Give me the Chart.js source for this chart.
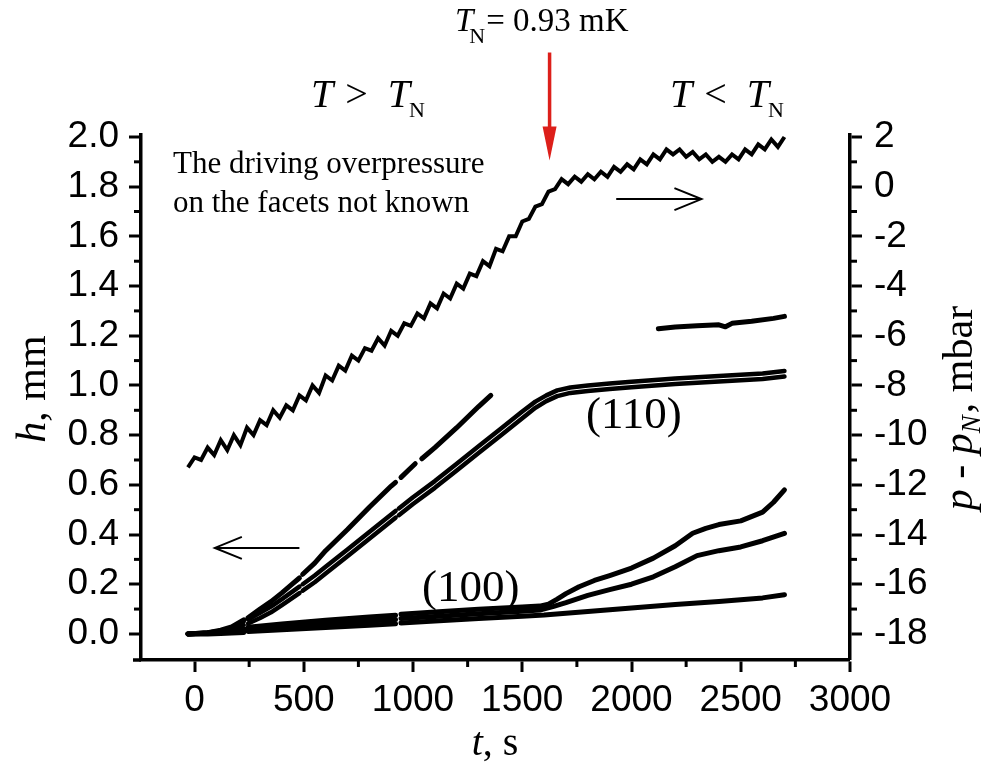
<!DOCTYPE html>
<html>
<head>
<meta charset="utf-8">
<script src="https://cdn.jsdelivr.net/npm/chart.js@4"></script>
<style>
html,body{margin:0;padding:0;background:#fff;}
#wrap{width:982px;height:763px;position:relative;}
canvas{display:block;}
</style>
</head>
<body>
<div id="wrap"><canvas id="c" width="982" height="763"></canvas></div>
<script>
// ---------- tick definitions ----------
const xTickValues = [0, 500, 1000, 1500, 2000, 2500, 3000];
const xMinorValues = [250, 750, 1250, 1750, 2250, 2750];
const hTickValues = [0, 0.2, 0.4, 0.6, 0.8, 1.0, 1.2, 1.4, 1.6, 1.8, 2.0];
const hTickLabels = ['0.0','0.2','0.4','0.6','0.8','1.0','1.2','1.4','1.6','1.8','2.0'];
const hMinorValues = [0.1, 0.3, 0.5, 0.7, 0.9, 1.1, 1.3, 1.5, 1.7, 1.9];
const pTickValues = [-18, -16, -14, -12, -10, -8, -6, -4, -2, 0, 2];
const pMinorValues = [-17, -15, -13, -11, -9, -7, -5, -3, -1, 1];

// ---------- pressure p - pN (mbar), right axis ----------
const tP = [-30,0,30,60,90,120,150,180,210,240,270,300,330,360,390,420,450,480,510,540,570,600,630,660,690,720,750,780,810,840,870,900,930,960,990,1020,1050,1080,1110,1140,1170,1200,1230,1260,1290,1320,1350,1380,1410,1440,1470,1500,1530,1560,1590,1620,1650,1680,1710,1740,1770,1800,1830,1860,1890,1920,1950,1980,2010,2040,2070,2100,2130,2160,2190,2220,2250,2280,2310,2340,2370,2400,2430,2460,2490,2520,2550,2580,2610,2640,2670,2700];
const pressure = [-11.3,-10.9,-11.0,-10.5,-10.8,-10.2,-10.6,-10.0,-10.4,-9.7,-10.0,-9.4,-9.6,-9.0,-9.3,-8.8,-9.0,-8.4,-8.6,-8.0,-8.3,-7.6,-7.8,-7.2,-7.4,-6.8,-7.0,-6.5,-6.6,-6.1,-6.4,-5.8,-6.0,-5.5,-5.6,-5.1,-5.3,-4.7,-4.9,-4.3,-4.5,-3.9,-4.1,-3.5,-3.6,-3.0,-3.2,-2.5,-2.6,-2.0,-2.0,-1.4,-1.3,-0.8,-0.7,-0.2,-0.1,0.3,0.1,0.4,0.2,0.5,0.3,0.6,0.4,0.8,0.6,0.9,0.7,1.1,0.9,1.3,1.1,1.5,1.3,1.5,1.2,1.4,1.1,1.3,1.0,1.2,1.0,1.3,1.1,1.5,1.3,1.7,1.5,1.9,1.6,2.0];

// ---------- facet heights h (mm), left axis ----------
// (110) upper line
const tA = [-30,60,120,170,225,235,245,300,350,400,440,480,487,495,550,600,700,800,900,920,932,945,980,1010,1025,1040,1100,1200,1300,1356];
const hA = [0.0,0.005,0.015,0.028,0.056,null,0.065,0.1,0.13,0.165,0.195,0.225,null,0.24,0.285,0.335,0.42,0.51,0.595,0.61,null,0.63,0.66,0.685,null,0.705,0.75,0.83,0.915,0.96];
// (110) pair
const tB = [-30,60,120,170,225,235,245,300,350,400,440,480,487,495,550,600,700,800,920,928,935,1000,1100,1200,1300,1400,1500,1560,1610,1660,1720,1800,1900,2000,2200,2400,2600,2700];
const hB = [0.0,0.005,0.013,0.025,0.05,null,0.058,0.085,0.11,0.14,0.165,0.19,null,0.2,0.235,0.27,0.34,0.41,0.495,null,0.505,0.55,0.615,0.685,0.755,0.825,0.895,0.935,0.96,0.98,0.992,1.0,1.008,1.015,1.028,1.038,1.048,1.058];
const hC = [0.0,0.003,0.009,0.018,0.036,null,0.042,0.064,0.087,0.116,0.14,0.164,null,0.174,0.208,0.243,0.313,0.383,0.468,null,0.478,0.523,0.588,0.658,0.728,0.798,0.868,0.91,0.937,0.957,0.97,0.978,0.986,0.993,1.006,1.016,1.026,1.036];
// upper short segment
const tD = [2123,2200,2300,2400,2430,2460,2550,2650,2700];
const hD = [1.228,1.235,1.24,1.244,1.236,1.25,1.258,1.27,1.278];
// (100) lines
const tE = [-30,60,120,170,225,235,245,400,600,800,920,932,945,1100,1300,1500,1580,1620,1660,1700,1760,1830,1900,2000,2100,2200,2280,2340,2400,2500,2600,2650,2700];
const hE = [0.0,0.005,0.01,0.015,0.02,null,0.027,0.04,0.055,0.068,0.075,null,0.079,0.088,0.099,0.108,0.112,0.12,0.14,0.162,0.19,0.215,0.235,0.265,0.305,0.355,0.405,0.425,0.44,0.455,0.49,0.53,0.58];
const tF = [-30,60,120,170,225,235,245,400,600,800,920,932,945,1100,1300,1500,1580,1640,1700,1800,1900,2000,2100,2200,2300,2400,2500,2600,2700];
const hF = [0.0,0.003,0.006,0.009,0.013,null,0.018,0.028,0.04,0.052,0.058,null,0.062,0.07,0.081,0.091,0.096,0.11,0.126,0.155,0.178,0.2,0.23,0.27,0.315,0.335,0.35,0.375,0.405];
const tG = [-30,60,120,170,225,235,245,400,600,800,920,932,945,1100,1300,1500,1600,1800,2000,2200,2400,2600,2700];
const hG = [0.0,0.0,0.002,0.004,0.006,null,0.01,0.017,0.026,0.035,0.041,null,0.044,0.052,0.062,0.071,0.076,0.09,0.104,0.118,0.13,0.145,0.158];

function pts(ts, vs){ return ts.map((t,i)=>({x:t, y:vs[i]})); }
function hSet(ts, vs, w){
  return {data: pts(ts, vs), yAxisID:'y', borderColor:'#000', borderWidth:w||5, pointRadius:0,
          borderCapStyle:'round', borderJoinStyle:'round', tension:0, spanGaps:false, fill:false};
}

const SERIF = '"Liberation Serif", "Times New Roman", serif';

function drawRuns(ctx, x, y, parts){
  for(const p of parts){
    ctx.font = p.f;
    ctx.fillText(p.t, x + (p.dx||0), y + (p.dy||0));
    x += (p.dx||0) + ctx.measureText(p.t).width;
  }
}
function runsWidth(ctx, parts){
  let w=0; for(const p of parts){ ctx.font=p.f; w += (p.dx||0) + ctx.measureText(p.t).width; } return w;
}
function openArrow(ctx, x1, y1, x2, y2){
  ctx.beginPath(); ctx.moveTo(x1,y1); ctx.lineTo(x2,y2); ctx.stroke();
  const dir = Math.sign(x2-x1);
  ctx.beginPath();
  ctx.moveTo(x2 - dir*27, y2 - 11); ctx.lineTo(x2, y2); ctx.lineTo(x2 - dir*27, y2 + 11);
  ctx.stroke();
}

const minorPlugin = {
  id:'minorTicks',
  afterDraw(chart){
    const ctx = chart.ctx, xs = chart.scales.x, ys = chart.scales.y, y2 = chart.scales.y2;
    const ca = chart.chartArea;
    ctx.save();
    ctx.strokeStyle = '#000'; ctx.lineWidth = 3; ctx.lineCap = 'butt';
    for(const v of xMinorValues){ const px = xs.getPixelForValue(v); ctx.beginPath(); ctx.moveTo(px, ca.bottom); ctx.lineTo(px, ca.bottom+7); ctx.stroke(); }
    for(const v of hMinorValues){ const py = ys.getPixelForValue(v); ctx.beginPath(); ctx.moveTo(ca.left, py); ctx.lineTo(ca.left-7, py); ctx.stroke(); }
    for(const v of pMinorValues){ const py = y2.getPixelForValue(v); ctx.beginPath(); ctx.moveTo(ca.right, py); ctx.lineTo(ca.right+7, py); ctx.stroke(); }
    // small overhang of the bottom axis past the left axis
    ctx.lineWidth = 3.5;
    ctx.beginPath(); ctx.moveTo(ca.left-8, ca.bottom); ctx.lineTo(ca.left, ca.bottom); ctx.stroke();

    // ---- annotations ----
    ctx.fillStyle = '#000';
    ctx.textBaseline = 'alphabetic';
    ctx.textAlign = 'left';
    // T_N = 0.93 mK
    drawRuns(ctx, 455, 31, [
      {t:'T', f:'italic 33px '+SERIF},
      {t:'N', f:'22px '+SERIF, dx:-4, dy:12},
      {t:'= 0.93 mK', f:'33px '+SERIF, dx:1}
    ]);
    // T > TN
    drawRuns(ctx, 311, 107, [
      {t:'T', f:'italic 40px '+SERIF},
      {t:'>', f:'40px '+SERIF, dx:12},
      {t:'T', f:'italic 40px '+SERIF, dx:20},
      {t:'N', f:'22px '+SERIF, dx:-1, dy:10}
    ]);
    // T < TN
    drawRuns(ctx, 670, 107, [
      {t:'T', f:'italic 40px '+SERIF},
      {t:'<', f:'40px '+SERIF, dx:12},
      {t:'T', f:'italic 40px '+SERIF, dx:20},
      {t:'N', f:'22px '+SERIF, dx:-1, dy:10}
    ]);
    // note
    ctx.font = '31px '+SERIF;
    ctx.fillText('The driving overpressure', 173, 173);
    ctx.fillText('on the facets not known', 173, 212);
    // facet labels
    ctx.font = '45px '+SERIF;
    ctx.fillText('(110)', 586, 428);
    ctx.fillText('(100)', 422, 601);

    // red arrow (T_N marker)
    const rx = xs.getPixelForValue(1625);
    const rTop = ys.getPixelForValue(2.34), rTip = ys.getPixelForValue(1.905);
    ctx.strokeStyle = '#dd1f1a'; ctx.fillStyle = '#dd1f1a'; ctx.lineWidth = 3.5;
    ctx.beginPath(); ctx.moveTo(rx, rTop); ctx.lineTo(rx, rTip-20); ctx.stroke();
    ctx.beginPath(); ctx.moveTo(rx-7, rTip-34); ctx.lineTo(rx+7, rTip-34); ctx.lineTo(rx, rTip); ctx.closePath(); ctx.fill();

    // black arrows
    ctx.strokeStyle = '#000'; ctx.lineWidth = 2;
    const ay1 = ys.getPixelForValue(1.75);
    openArrow(ctx, xs.getPixelForValue(1930), ay1, xs.getPixelForValue(2320), ay1);
    const ay2 = ys.getPixelForValue(0.346);
    openArrow(ctx, xs.getPixelForValue(480), ay2, xs.getPixelForValue(93), ay2);

    // axis titles
    ctx.fillStyle = '#000';
    // h, mm
    let parts = [{t:'h', f:'italic 42px '+SERIF},{t:', mm', f:'42px '+SERIF}];
    ctx.save(); ctx.translate(45, 389); ctx.rotate(-Math.PI/2);
    drawRuns(ctx, -runsWidth(ctx, parts)/2, 0, parts); ctx.restore();
    // t, s
    parts = [{t:'t', f:'italic 40px '+SERIF},{t:', s', f:'40px '+SERIF}];
    drawRuns(ctx, 495 - runsWidth(ctx, parts)/2, 755, parts);
    // p - pN, mbar
    parts = [{t:'p', f:'italic 42px '+SERIF},{t:' - ', f:'42px '+SERIF},{t:'p', f:'italic 42px '+SERIF},
             {t:'N', f:'italic 27px '+SERIF, dy:8},{t:', mbar', f:'42px '+SERIF, dx:2}];
    ctx.save(); ctx.translate(972, 408); ctx.rotate(-Math.PI/2);
    drawRuns(ctx, -runsWidth(ctx, parts)/2, 0, parts); ctx.restore();
    ctx.restore();
  }
};

const tickFont = {family: 'Liberation Sans', size: 37};
const gridCfg = {display:true, drawOnChartArea:false, drawTicks:true, tickLength:12, tickWidth:3, tickColor:'#000', color:'#000', lineWidth:0};
const borderCfg = {display:true, color:'#000', width:3.5};

new Chart(document.getElementById('c'), {
  type:'line',
  data:{
    datasets:[
      {data: pts(tP, pressure), yAxisID:'y2', borderColor:'#000', borderWidth:4, pointRadius:0, tension:0, fill:false, borderJoinStyle:'miter'},
      hSet(tA, hA), hSet(tB, hB, 4.5), hSet(tB, hC, 4.5), hSet(tD, hD),
      hSet(tE, hE), hSet(tF, hF), hSet(tG, hG)
    ]
  },
  options:{
    responsive:false, animation:false, events:[],
    layout:{padding:{top:135, left:0, right:0, bottom:0}},
    plugins:{legend:{display:false}, tooltip:{enabled:false}, title:{display:false}},
    scales:{
      x:{type:'linear', position:'bottom', min:-245, max:3000,
         afterBuildTicks: s => { s.ticks = xTickValues.map(v=>({value:v})); },
         afterFit: s => { s.height = 103; },
         ticks:{font:tickFont, color:'#000', padding:7, maxRotation:0, autoSkip:false, callback:(v)=>String(v)},
         grid:gridCfg, border:borderCfg},
      y:{type:'linear', position:'left', min:-0.105, max:2.008,
         afterBuildTicks: s => { s.ticks = hTickValues.map(v=>({value:v})); },
         afterFit: s => { s.width = 141; },
         ticks:{font:tickFont, color:'#000', padding:10, autoSkip:false, callback:(v,i)=>hTickLabels[i]},
         grid:gridCfg, border:borderCfg},
      y2:{type:'linear', position:'right', min:-19.05, max:2.08,
         afterBuildTicks: s => { s.ticks = pTickValues.map(v=>({value:v})); },
         afterFit: s => { s.width = 132; },
         ticks:{font:tickFont, color:'#000', padding:12, autoSkip:false, callback:(v)=>String(v)},
         grid:gridCfg, border:borderCfg}
    }
  },
  plugins:[minorPlugin]
});
</script>
</body>
</html>
